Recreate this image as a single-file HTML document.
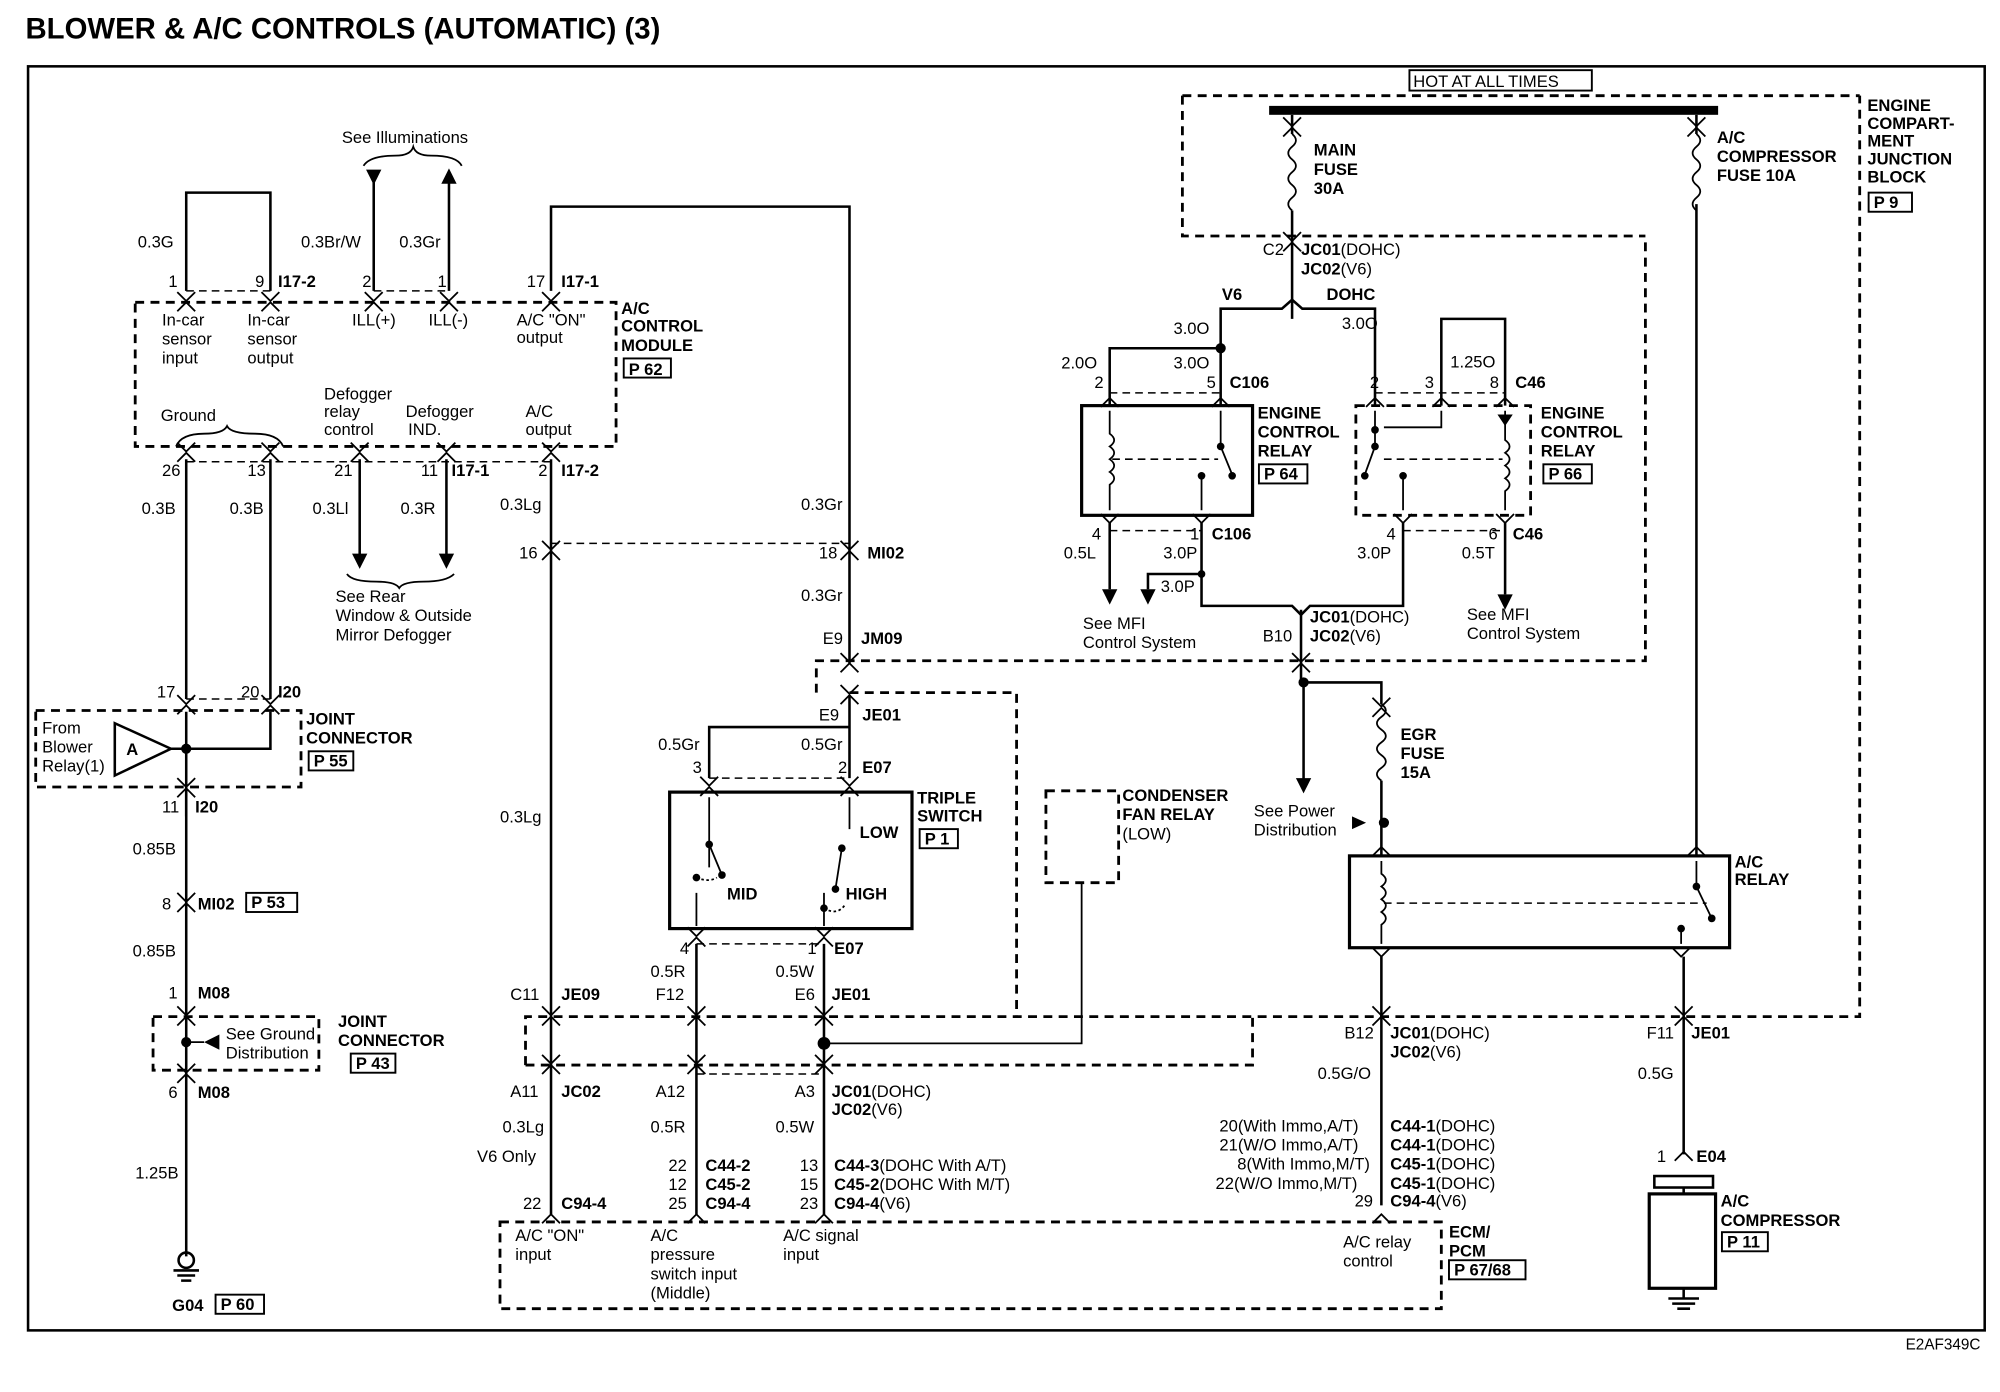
<!DOCTYPE html>
<html><head><meta charset="utf-8"><style>
html,body{margin:0;padding:0;background:#fff;}
svg{display:block}
text{font-family:"Liberation Sans",Arial,sans-serif;font-size:13px;fill:#000}
.b{font-weight:bold}
.w{stroke:#000;stroke-width:2;fill:none}
.t{stroke:#000;stroke-width:1.4;fill:none}
.d{stroke:#000;stroke-width:2.2;fill:none;stroke-dasharray:7,5}
.dt{stroke:#000;stroke-width:1.2;fill:none;stroke-dasharray:6,4}
.bx{stroke:#000;stroke-width:2.5;fill:none}
</style></head><body>
<svg width="2000" height="1392" viewBox="0 0 1568 1091.3" xmlns="http://www.w3.org/2000/svg">
<defs>
<g id="c"><path d="M-7,-8 L0,-1 L7,-8 M-7,7 L0,0 L7,7" stroke="#000" stroke-width="1.4" fill="none"/></g>
<g id="up"><path d="M-7,7 L0,0 L7,7" stroke="#000" stroke-width="1.4" fill="none"/></g>
<g id="dn"><path d="M-7,-7 L0,0 L7,-7" stroke="#000" stroke-width="1.4" fill="none"/></g>
<g id="ad"><path d="M-6,-12 L0,0 L6,-12 Z" fill="#000"/></g>
<g id="au"><path d="M-6,12 L0,0 L6,12 Z" fill="#000"/></g>
</defs>
<text x="20" y="30" class="b" style="font-size:23px">BLOWER &amp; A/C CONTROLS (AUTOMATIC) (3)</text>
<rect x="22" y="52" width="1534" height="991" fill="none" stroke="#000" stroke-width="2"/>
<text x="1494" y="1058" style="font-size:12px">E2AF349C</text>

<path class="w" d="M146,228 V151 H212 V228"/>
<text x="108" y="194">0.3G</text>
<text x="132" y="225">1</text><text x="200" y="225">9</text><text x="218" y="225" class="b">I17-2</text>
<path class="dt" d="M146,228 H212"/>
<text x="268" y="112">See Illuminations</text>
<path class="t" d="M285,130 Q290,122 310,122 Q322,122 324,115 Q326,122 338,122 Q358,122 362,130"/>
<path class="w" d="M293,135 V228 M352,135 V228"/>
<use href="#ad" x="293" y="145"/><use href="#au" x="352" y="132"/>
<text x="236" y="194">0.3Br/W</text><text x="313" y="194">0.3Gr</text>
<text x="284" y="225">2</text><text x="343" y="225">1</text>
<path class="dt" d="M293,228 H352"/>
<path class="w" d="M432,228 V162 H666 V520"/>
<text x="413" y="225">17</text><text x="440" y="225" class="b">I17-1</text>
<use href="#c" x="146" y="237"/><use href="#c" x="212" y="237"/><use href="#c" x="293" y="237"/><use href="#c" x="352" y="237"/><use href="#c" x="432" y="237"/>
<rect class="d" x="106" y="237" width="377" height="113"/>
<text x="127" y="255">In-car</text><text x="127" y="270">sensor</text><text x="127" y="285">input</text>
<text x="194" y="255">In-car</text><text x="194" y="270">sensor</text><text x="194" y="285">output</text>
<text x="276" y="255">ILL(+)</text><text x="336" y="255">ILL(-)</text>
<text x="405" y="255">A/C "ON"</text><text x="405" y="269">output</text>
<text x="126" y="330">Ground</text>
<path class="t" d="M138,350 Q142,340 160,340 Q175,340 178,334 Q181,340 200,340 Q218,340 222,350"/>
<text x="254" y="313">Defogger</text><text x="254" y="327">relay</text><text x="254" y="341">control</text>
<text x="318" y="327">Defogger</text><text x="320" y="341">IND.</text>
<text x="412" y="327">A/C</text><text x="412" y="341">output</text>
<text x="487" y="246" class="b">A/C</text><text x="487" y="260" class="b">CONTROL</text><text x="487" y="275" class="b">MODULE</text>
<rect x="489" y="281" width="37" height="15" fill="none" stroke="#000" stroke-width="1.5"/><text x="493" y="294" class="b">P 62</text>
<use href="#c" x="146" y="355"/><use href="#c" x="212" y="355"/><use href="#c" x="282" y="355"/><use href="#c" x="350" y="355"/><use href="#c" x="432" y="355"/>
<path class="dt" d="M146,362 H432"/>
<text x="127" y="373">26</text><text x="194" y="373">13</text><text x="262" y="373">21</text><text x="330" y="373">11</text><text x="354" y="373" class="b">I17-1</text>
<text x="422" y="373">2</text><text x="440" y="373" class="b">I17-2</text>
<path class="w" d="M146,360 V548 M212,360 V548 M282,360 V440 M350,360 V440"/>
<use href="#ad" x="282" y="446"/><use href="#ad" x="350" y="446"/>
<text x="111" y="403">0.3B</text><text x="180" y="403">0.3B</text><text x="245" y="403">0.3Ll</text><text x="314" y="403">0.3R</text>
<path class="t" d="M272,450 Q276,456 295,456 Q310,456 313,461 Q316,456 332,456 Q350,456 356,450"/>
<text x="263" y="472">See Rear</text><text x="263" y="487">Window &amp; Outside</text><text x="263" y="502">Mirror Defogger</text>
<use href="#c" x="146" y="553"/><use href="#c" x="212" y="553"/>
<path class="dt" d="M146,548 H212"/>
<text x="123" y="547">17</text><text x="189" y="547">20</text><text x="218" y="547" class="b">I20</text>
<rect class="d" x="28" y="557" width="208" height="60"/>
<text x="33" y="575">From</text><text x="33" y="590">Blower</text><text x="33" y="605">Relay(1)</text>
<path d="M90,567 L134,587 L90,608 Z" fill="none" stroke="#000" stroke-width="2"/><text x="99" y="592" class="b">A</text>
<path class="w" d="M134,587 H212 V558 M146,558 V640"/>
<circle cx="146" cy="587" r="4"/>
<text x="240" y="568" class="b">JOINT</text><text x="240" y="583" class="b">CONNECTOR</text>
<rect x="242" y="589" width="35" height="15" fill="none" stroke="#000" stroke-width="1.5"/><text x="246" y="601" class="b">P 55</text>
<use href="#c" x="146" y="618"/>
<text x="127" y="637">11</text><text x="153" y="637" class="b">I20</text>
<text x="104" y="670">0.85B</text>
<path class="w" d="M146,618 V985"/>
<use href="#c" x="146" y="708"/><text x="127" y="713">8</text><text x="155" y="713" class="b">MI02</text>
<rect x="193" y="700" width="40" height="15" fill="none" stroke="#000" stroke-width="1.5"/><text x="197" y="712" class="b">P 53</text>
<text x="104" y="750">0.85B</text>
<text x="132" y="783">1</text><text x="155" y="783" class="b">M08</text>
<use href="#c" x="146" y="797"/>
<rect class="d" x="120" y="797" width="130" height="42"/>
<circle cx="146" cy="817" r="4"/><path class="t" d="M146,817 H160"/><path d="M160,817 L172,811 L172,823 Z"/>
<text x="177" y="815">See Ground</text><text x="177" y="830">Distribution</text>
<text x="265" y="805" class="b">JOINT</text><text x="265" y="820" class="b">CONNECTOR</text>
<rect x="275" y="826" width="35" height="15" fill="none" stroke="#000" stroke-width="1.5"/><text x="279" y="838" class="b">P 43</text>
<use href="#c" x="146" y="842"/>
<text x="132" y="861">6</text><text x="155" y="861" class="b">M08</text>
<text x="106" y="924">1.25B</text>
<circle cx="146" cy="988" r="6" fill="none" stroke="#000" stroke-width="2"/>
<path class="w" d="M136,996 H156 M139,1000 H153 M142,1004 H150"/>
<text x="135" y="1028" class="b">G04</text>
<rect x="169" y="1015" width="38" height="15" fill="none" stroke="#000" stroke-width="1.5"/><text x="173" y="1027" class="b">P 60</text>

<path class="w" d="M432,360 V952"/>
<text x="392" y="400">0.3Lg</text>
<use href="#c" x="432" y="432"/><use href="#c" x="666" y="432"/>
<path class="dt" d="M432,426 H666"/>
<text x="407" y="438">16</text><text x="642" y="438">18</text><text x="680" y="438" class="b">MI02</text>
<text x="628" y="400">0.3Gr</text><text x="628" y="471">0.3Gr</text>
<text x="392" y="645">0.3Lg</text>
<text x="645" y="505">E9</text><text x="675" y="505" class="b">JM09</text>
<path class="d" d="M640,543 V518 H1290 V185"/>
<use href="#c" x="666" y="520"/>
<path class="d" d="M666,543 H797 V797"/>
<use href="#c" x="666" y="545"/>
<text x="642" y="565">E9</text><text x="676" y="565" class="b">JE01</text>
<path class="w" d="M666,545 V570 H556 V610 M666,570 V610"/>
<text x="516" y="588">0.5Gr</text><text x="628" y="588">0.5Gr</text>
<text x="543" y="606">3</text><text x="657" y="606">2</text><text x="676" y="606" class="b">E07</text>
<path class="dt" d="M556,610 H666"/>
<use href="#c" x="556" y="617"/><use href="#c" x="666" y="617"/>
<rect x="525" y="621" width="190" height="107" fill="none" stroke="#000" stroke-width="2.5"/>
<path class="t" d="M556,625 V680 M666,625 V650 M546,700 V726 M646,700 V726"/>
<circle cx="556" cy="662" r="3"/><path class="t" d="M556,662 L566,686"/><circle cx="566" cy="686" r="3"/>
<circle cx="546" cy="688" r="3"/><path class="t" d="M546,688 Q556,692 562,688" style="stroke-dasharray:2,2"/>
<circle cx="660" cy="665" r="3"/><path class="t" d="M660,665 L655,697"/><circle cx="655" cy="697" r="3"/>
<circle cx="646" cy="712" r="3"/><path class="t" d="M646,712 Q656,718 662,710" style="stroke-dasharray:2,2"/>
<text x="570" y="705" class="b">MID</text><text x="674" y="657" class="b">LOW</text><text x="663" y="705" class="b">HIGH</text>
<text x="719" y="630" class="b">TRIPLE</text><text x="719" y="644" class="b">SWITCH</text>
<rect x="721" y="650" width="30" height="15" fill="none" stroke="#000" stroke-width="1.5"/><text x="725" y="662" class="b">P 1</text>
<use href="#c" x="546" y="735"/><use href="#c" x="646" y="735"/>
<path class="dt" d="M546,740 H646"/>
<text x="533" y="748">4</text><text x="633" y="748">1</text><text x="654" y="748" class="b">E07</text>
<path class="w" d="M546,740 V952 M646,740 V952"/>
<text x="510" y="766">0.5R</text><text x="608" y="766">0.5W</text>
<text x="514" y="784">F12</text><text x="623" y="784">E6</text><text x="652" y="784" class="b">JE01</text>
<text x="400" y="784">C11</text><text x="440" y="784" class="b">JE09</text>
<rect class="d" x="820" y="620" width="57" height="72"/>
<text x="880" y="628" class="b">CONDENSER</text><text x="880" y="643" class="b">FAN RELAY</text><text x="880" y="658">(LOW)</text>
<path class="t" d="M848,692 V818 H646"/>
<circle cx="646" cy="818" r="5"/>
<path class="d" d="M412,835 V797 H982 M412,835 H982 V797 H1458 V75"/>
<use href="#c" x="432" y="797"/><use href="#c" x="546" y="797"/><use href="#c" x="646" y="797"/>
<use href="#c" x="432" y="835"/><use href="#c" x="546" y="835"/><use href="#c" x="646" y="835"/>
<path class="dt" d="M546,842 H646"/>
<text x="400" y="860">A11</text><text x="440" y="860" class="b">JC02</text>
<text x="514" y="860">A12</text><text x="623" y="860">A3</text>
<text x="652" y="860"><tspan class="b">JC01</tspan>(DOHC)</text><text x="652" y="874"><tspan class="b">JC02</tspan>(V6)</text>
<text x="394" y="888">0.3Lg</text><text x="510" y="888">0.5R</text><text x="608" y="888">0.5W</text>
<text x="374" y="911">V6 Only</text>
<text x="524" y="918">22</text><text x="553" y="918" class="b">C44-2</text>
<text x="524" y="933">12</text><text x="553" y="933" class="b">C45-2</text>
<text x="524" y="948">25</text><text x="553" y="948" class="b">C94-4</text>
<text x="627" y="918">13</text><text x="654" y="918"><tspan class="b">C44-3</tspan>(DOHC With A/T)</text>
<text x="627" y="933">15</text><text x="654" y="933"><tspan class="b">C45-2</tspan>(DOHC With M/T)</text>
<text x="627" y="948">23</text><text x="654" y="948"><tspan class="b">C94-4</tspan>(V6)</text>
<text x="410" y="948">22</text><text x="440" y="948" class="b">C94-4</text>
<use href="#up" x="432" y="952"/><use href="#up" x="546" y="952"/><use href="#up" x="646" y="952"/><use href="#up" x="1083" y="952"/>
<rect class="d" x="392" y="958" width="738" height="68"/>
<text x="404" y="973">A/C "ON"</text><text x="404" y="988">input</text>
<text x="510" y="973">A/C</text><text x="510" y="988">pressure</text><text x="510" y="1003">switch input</text><text x="510" y="1018">(Middle)</text>
<text x="614" y="973">A/C signal</text><text x="614" y="988">input</text>
<text x="1053" y="978">A/C relay</text><text x="1053" y="993">control</text>
<text x="1136" y="970" class="b">ECM/</text><text x="1136" y="985" class="b">PCM</text>
<rect x="1136" y="988" width="60" height="15" fill="none" stroke="#000" stroke-width="1.5"/><text x="1140" y="1000" class="b">P 67/68</text>

<rect x="1105" y="55" width="143" height="16" fill="none" stroke="#000" stroke-width="1.5"/><text x="1108" y="68">HOT AT ALL TIMES</text>
<path class="d" d="M927,75 V185 H1290 M927,75 H1458"/>
<rect x="995" y="83" width="352" height="7" fill="#000"/>
<path class="w" d="M1013,90 V105 M1013,165 V250 M1330,90 V105 M1330,160 V670"/>
<path class="t" d="M1013,105 q6,5 0,10 q-6,5 0,10 q6,5 0,10 q-6,5 0,10 q6,5 0,10 q-6,5 0,10 M1330,105 q6,5 0,10 q-6,5 0,10 q6,5 0,10 q-6,5 0,10 q6,5 0,10 q-6,5 0,10"/>
<use href="#c" x="1013" y="100"/><use href="#c" x="1330" y="100"/>
<text x="1030" y="122" class="b">MAIN</text><text x="1030" y="137" class="b">FUSE</text><text x="1030" y="152" class="b">30A</text>
<text x="1346" y="112" class="b">A/C</text><text x="1346" y="127" class="b">COMPRESSOR</text><text x="1346" y="142" class="b">FUSE 10A</text>
<text x="1464" y="87" class="b">ENGINE</text><text x="1464" y="101" class="b">COMPART-</text><text x="1464" y="115" class="b">MENT</text><text x="1464" y="129" class="b">JUNCTION</text><text x="1464" y="143" class="b">BLOCK</text>
<rect x="1465" y="151" width="34" height="15" fill="none" stroke="#000" stroke-width="1.5"/><text x="1469" y="163" class="b">P 9</text>
<use href="#c" x="1013" y="190"/>
<text x="990" y="200">C2</text><text x="1020" y="200"><tspan class="b">JC01</tspan>(DOHC)</text><text x="1020" y="215"><tspan class="b">JC02</tspan>(V6)</text>
<path class="w" d="M1013,235 L1005,242 H957 V318 M1013,235 L1021,242 H1078 V318"/>
<text x="958" y="235" class="b">V6</text><text x="1040" y="235" class="b">DOHC</text>
<circle cx="957" cy="273" r="4"/>
<path class="w" d="M957,273 H870 V318"/>
<text x="920" y="262">3.0O</text><text x="1052" y="258">3.0O</text>
<text x="832" y="289">2.0O</text><text x="920" y="289">3.0O</text>
<text x="858" y="304">2</text><text x="946" y="304">5</text><text x="964" y="304" class="b">C106</text>
<path class="dt" d="M870,308 H957"/>
<use href="#up" x="870" y="312"/><use href="#up" x="957" y="312"/>
<rect x="848" y="318" width="134" height="86" fill="none" stroke="#000" stroke-width="2.5"/>
<path class="t" d="M870,322 V340 q7,5 0,10 q7,5 0,10 q7,5 0,10 q7,5 0,10 V400 M957,322 V350 L966,372 M942,375 V400"/>
<path class="dt" d="M872,360 H955"/>
<circle cx="957" cy="350" r="3"/><circle cx="966" cy="373" r="3"/><circle cx="942" cy="373" r="3"/>
<text x="986" y="328" class="b">ENGINE</text><text x="986" y="343" class="b">CONTROL</text><text x="986" y="358" class="b">RELAY</text>
<rect x="987" y="364" width="38" height="15" fill="none" stroke="#000" stroke-width="1.5"/><text x="991" y="376" class="b">P 64</text>
<use href="#dn" x="870" y="410"/><use href="#dn" x="942" y="410"/>
<path class="dt" d="M870,416 H942"/>
<text x="856" y="423">4</text><text x="933" y="423">1</text><text x="950" y="423" class="b">C106</text>
<path class="w" d="M870,410 V462 M942,410 V475 H1013 L1020,482 M942,450 H900 V462"/>
<use href="#ad" x="870" y="474"/><use href="#ad" x="900" y="474"/>
<circle cx="942" cy="450" r="3"/>
<text x="834" y="438">0.5L</text><text x="912" y="438">3.0P</text><text x="910" y="464">3.0P</text>
<text x="849" y="493">See MFI</text><text x="849" y="508">Control System</text>
<path class="w" d="M1130,318 V250 H1180 V318"/>
<text x="1137" y="288">1.25O</text>
<text x="1074" y="304">2</text><text x="1117" y="304">3</text><text x="1168" y="304">8</text><text x="1188" y="304" class="b">C46</text>
<path class="dt" d="M1078,308 H1180"/>
<use href="#up" x="1078" y="312"/><use href="#up" x="1130" y="312"/><use href="#up" x="1180" y="312"/>
<rect class="d" x="1063" y="318" width="137" height="86"/>
<path class="t" d="M1078,322 V350 L1070,372 M1130,322 V335 H1085 M1100,375 V400 M1180,322 V345 q7,5 0,10 q7,5 0,10 q7,5 0,10 q7,5 0,10 V400"/>
<path d="M1174,325 L1186,325 L1180,334 Z"/>
<circle cx="1078" cy="337" r="3"/><circle cx="1078" cy="350" r="3"/><circle cx="1070" cy="373" r="3"/><circle cx="1100" cy="373" r="3"/>
<path class="dt" d="M1085,360 H1178"/>
<text x="1208" y="328" class="b">ENGINE</text><text x="1208" y="343" class="b">CONTROL</text><text x="1208" y="358" class="b">RELAY</text>
<rect x="1210" y="364" width="38" height="15" fill="none" stroke="#000" stroke-width="1.5"/><text x="1214" y="376" class="b">P 66</text>
<use href="#dn" x="1100" y="410"/><use href="#dn" x="1180" y="410"/>
<path class="dt" d="M1100,416 H1180"/>
<text x="1087" y="423">4</text><text x="1167" y="423">6</text><text x="1186" y="423" class="b">C46</text>
<path class="w" d="M1100,410 V475 H1027 L1020,482 M1180,410 V466"/>
<use href="#ad" x="1180" y="478"/>
<text x="1064" y="438">3.0P</text><text x="1146" y="438">0.5T</text>
<text x="1150" y="486">See MFI</text><text x="1150" y="501">Control System</text>
<path class="w" d="M1020,478 V535"/>
<text x="1027" y="488"><tspan class="b">JC01</tspan>(DOHC)</text>
<text x="990" y="503">B10</text><text x="1027" y="503"><tspan class="b">JC02</tspan>(V6)</text>
<use href="#c" x="1020" y="520"/>
<circle cx="1022" cy="535" r="4"/>
<path class="w" d="M1022,535 V612 M1022,535 H1083 V552 M1083,612 V670"/>
<use href="#ad" x="1022" y="622"/>
<path class="t" d="M1083,552 q7,5 0,10 q-7,5 0,10 q7,5 0,10 q-7,5 0,10 q7,5 0,10 q-7,5 0,10"/>
<use href="#c" x="1083" y="555"/>
<text x="1098" y="580" class="b">EGR</text><text x="1098" y="595" class="b">FUSE</text><text x="1098" y="610" class="b">15A</text>
<circle cx="1085" cy="645" r="4"/><path d="M1071,645 L1060,640 L1060,650 Z"/>
<text x="983" y="640">See Power</text><text x="983" y="655">Distribution</text>
<use href="#up" x="1083" y="664"/><use href="#up" x="1330" y="664"/>
<rect x="1058" y="671" width="298" height="72" fill="none" stroke="#000" stroke-width="2.5"/>
<path class="t" d="M1083,675 V685 q7,5 0,10 q7,5 0,10 q7,5 0,10 q7,5 0,10 V740 M1330,675 V695 L1342,720 M1318,728 V740"/>
<circle cx="1330" cy="695" r="3"/><circle cx="1342" cy="720" r="3"/><circle cx="1318" cy="728" r="3"/>
<path class="dt" d="M1085,708 H1338"/>
<text x="1360" y="680" class="b">A/C</text><text x="1360" y="694" class="b">RELAY</text>
<use href="#dn" x="1083" y="750"/><use href="#dn" x="1318" y="750"/>
<path class="w" d="M1083,750 V945 M1320,750 V905"/>
<use href="#c" x="1083" y="797"/><use href="#c" x="1320" y="797"/>
<text x="1054" y="814">B12</text><text x="1090" y="814"><tspan class="b">JC01</tspan>(DOHC)</text><text x="1090" y="829"><tspan class="b">JC02</tspan>(V6)</text>
<text x="1291" y="814">F11</text><text x="1326" y="814" class="b">JE01</text>
<text x="1033" y="846">0.5G/O</text><text x="1284" y="846">0.5G</text>
<text x="956" y="887">20(With Immo,A/T)</text><text x="1090" y="887"><tspan class="b">C44-1</tspan>(DOHC)</text>
<text x="956" y="902">21(W/O Immo,A/T)</text><text x="1090" y="902"><tspan class="b">C44-1</tspan>(DOHC)</text>
<text x="970" y="917">8(With Immo,M/T)</text><text x="1090" y="917"><tspan class="b">C45-1</tspan>(DOHC)</text>
<text x="953" y="932">22(W/O Immo,M/T)</text><text x="1090" y="932"><tspan class="b">C45-1</tspan>(DOHC)</text>
<text x="1062" y="946">29</text><text x="1090" y="946"><tspan class="b">C94-4</tspan>(V6)</text>
<use href="#up" x="1320" y="903"/>
<text x="1299" y="911">1</text><text x="1330" y="911" class="b">E04</text>
<rect x="1297" y="922" width="46" height="9" fill="none" stroke="#000" stroke-width="2"/>
<rect x="1293" y="936" width="52" height="74" fill="none" stroke="#000" stroke-width="2.5"/>
<path class="w" d="M1320,931 V936 M1320,1010 V1018 M1308,1018 H1332 M1311,1022 H1329 M1315,1026 H1325"/>
<text x="1349" y="946" class="b">A/C</text><text x="1349" y="961" class="b">COMPRESSOR</text>
<rect x="1350" y="966" width="36" height="15" fill="none" stroke="#000" stroke-width="1.5"/><text x="1354" y="978" class="b">P 11</text>
</svg>
</body></html>
